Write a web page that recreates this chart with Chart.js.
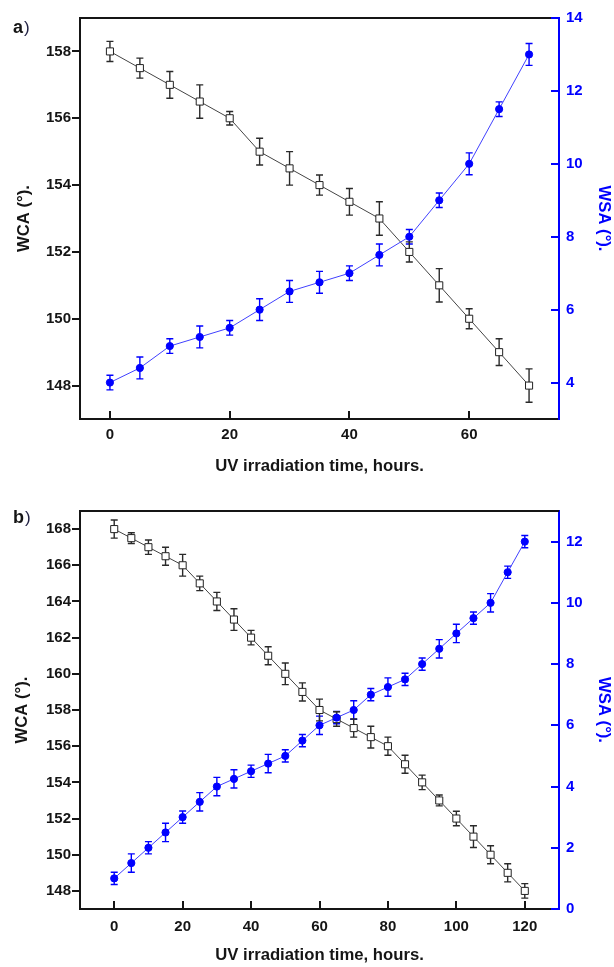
<!DOCTYPE html>
<html>
<head>
<meta charset="utf-8">
<script src="https://cdn.jsdelivr.net/npm/chart.js@4.4.1/dist/chart.umd.min.js"></script>
<style>
  html, body { margin: 0; padding: 0; background: #fff; }
  body { width: 614px; height: 967px; position: relative; overflow: hidden; }
  .panel { position: absolute; left: 0; width: 614px; }
  #wrapA { top: 0; height: 480px; }
  #wrapB { top: 480px; height: 487px; }
</style>
</head>
<body>
<div class="panel" id="wrapA"><canvas id="chartA" width="614" height="480"></canvas></div>
<div class="panel" id="wrapB"><canvas id="chartB" width="614" height="487"></canvas></div>
<script>
// ---- panel a) data ----
const hoursA = [0, 5, 10, 15, 20, 25, 30, 35, 40, 45, 50, 55, 60, 65, 70];
const wcaA = [158, 157.5, 157, 156.5, 156, 155, 154.5, 154, 153.5, 153, 152, 151, 150, 149, 148];
const wcaErrA = [0.3, 0.3, 0.4, 0.5, 0.2, 0.4, 0.5, 0.3, 0.4, 0.5, 0.3, 0.5, 0.3, 0.4, 0.5];
const wsaA = [4.0, 4.4, 5.0, 5.25, 5.5, 6.0, 6.5, 6.75, 7.0, 7.5, 8.0, 9.0, 10.0, 11.5, 13.0];
const wsaErrA = [0.2, 0.3, 0.2, 0.3, 0.2, 0.3, 0.3, 0.3, 0.2, 0.3, 0.2, 0.2, 0.3, 0.2, 0.3];
const xTicksA = [0, 20, 40, 60];
const wcaTicksA = [148, 150, 152, 154, 156, 158];
const wsaTicksA = [4, 6, 8, 10, 12, 14];

// ---- panel b) data ----
const hoursB = [0, 5, 10, 15, 20, 25, 30, 35, 40, 45, 50, 55, 60, 65, 70, 75, 80, 85, 90, 95, 100, 105, 110, 115, 120];
const wcaB = [168, 167.5, 167, 166.5, 166, 165, 164, 163, 162, 161, 160, 159, 158, 157.5, 157, 156.5, 156, 155, 154, 153, 152, 151, 150, 149, 148];
const wcaErrB = [0.5, 0.3, 0.4, 0.5, 0.6, 0.4, 0.5, 0.6, 0.4, 0.5, 0.6, 0.5, 0.6, 0.4, 0.5, 0.6, 0.5, 0.5, 0.4, 0.3, 0.4, 0.6, 0.5, 0.5, 0.4];
const wsaB = [1.0, 1.5, 2.0, 2.5, 3.0, 3.5, 4.0, 4.25, 4.5, 4.75, 5.0, 5.5, 6.0, 6.25, 6.5, 7.0, 7.25, 7.5, 8.0, 8.5, 9.0, 9.5, 10.0, 11.0, 12.0];
const wsaErrB = [0.2, 0.3, 0.2, 0.3, 0.2, 0.3, 0.3, 0.3, 0.2, 0.3, 0.2, 0.2, 0.3, 0.2, 0.3, 0.2, 0.3, 0.2, 0.2, 0.3, 0.3, 0.2, 0.3, 0.2, 0.2];
const xTicksB = [0, 20, 40, 60, 80, 100, 120];
const wcaTicksB = [148, 150, 152, 154, 156, 158, 160, 162, 164, 166, 168];
const wsaTicksB = [0, 2, 4, 6, 8, 10, 12];

const BLACK = '#151515';
const BLUE = '#0000ff';
const FONT = '"Liberation Sans", Arial, sans-serif';

// error bars, drawn under the markers
const errorBars = {
  id: 'errorBars',
  beforeDatasetsDraw(chart) {
    const ctx = chart.ctx;
    ctx.save();
    chart.data.datasets.forEach((ds, i) => {
      const meta = chart.getDatasetMeta(i);
      const ys = chart.scales[ds.yAxisID];
      ctx.strokeStyle = ds.errColor;
      ctx.lineWidth = 1.4;
      ds.data.forEach((p, j) => {
        const x = meta.data[j].x;
        const y1 = ys.getPixelForValue(p.y + ds.errors[j]);
        const y2 = ys.getPixelForValue(p.y - ds.errors[j]);
        ctx.beginPath();
        ctx.moveTo(x, y1); ctx.lineTo(x, y2);
        ctx.moveTo(x - 3.5, y1); ctx.lineTo(x + 3.5, y1);
        ctx.moveTo(x - 3.5, y2); ctx.lineTo(x + 3.5, y2);
        ctx.stroke();
      });
    });
    ctx.restore();
  }
};

// tick marks (x and right axis inward, left outward) + top frame line + panel tag
const frameTicks = {
  id: 'frameTicks',
  afterDraw(chart, args, opts) {
    const {ctx, chartArea: a, scales} = chart;
    ctx.save();
    ctx.lineWidth = 2;
    ctx.strokeStyle = BLACK;
    ctx.beginPath();
    scales.x.ticks.forEach(t => {
      const px = Math.round(scales.x.getPixelForValue(t.value));
      ctx.moveTo(px, a.bottom); ctx.lineTo(px, a.bottom - 8);
    });
    scales.y.ticks.forEach(t => {
      const py = Math.round(scales.y.getPixelForValue(t.value));
      ctx.moveTo(a.left - 8, py); ctx.lineTo(a.left, py);
    });
    ctx.moveTo(a.left - 1, a.top); ctx.lineTo(a.right, a.top);
    ctx.stroke();
    ctx.strokeStyle = BLUE;
    ctx.beginPath();
    scales.y2.ticks.forEach(t => {
      const py = Math.round(scales.y2.getPixelForValue(t.value));
      ctx.moveTo(a.right - 8, py); ctx.lineTo(a.right, py);
    });
    ctx.stroke();

    // panel tag such as "a)"
    ctx.textBaseline = 'alphabetic';
    ctx.textAlign = 'left';
    ctx.fillStyle = BLACK;
    ctx.font = 'bold 18px ' + FONT;
    ctx.fillText(opts.tag, 13, opts.tagY);
    const w = ctx.measureText(opts.tag).width;
    ctx.fillStyle = '#222244';
    ctx.font = '17px ' + FONT;
    ctx.fillText(')', 13 + w + 1, opts.tagY);
    ctx.restore();
  }
};

function makeChart(id, p) {
  const tickFont = { family: FONT, size: 15, weight: 'bold' };
  const titleFont = { family: FONT, size: 16.7, weight: 'bold' };
  return new Chart(document.getElementById(id), {
    type: 'line',
    data: {
      datasets: [
        {
          label: 'WSA',
          yAxisID: 'y2',
          data: p.hours.map((h, i) => ({ x: h, y: p.wsa[i] })),
          errors: p.wsaErr,
          errColor: BLUE,
          borderColor: '#4040ff',
          borderWidth: 1,
          pointStyle: 'circle',
          pointRadius: 3.6,
          pointBackgroundColor: BLUE,
          pointBorderColor: BLUE,
          pointBorderWidth: 1,
          tension: 0
        },
        {
          label: 'WCA',
          yAxisID: 'y',
          data: p.hours.map((h, i) => ({ x: h, y: p.wca[i] })),
          errors: p.wcaErr,
          errColor: '#2a2a2a',
          borderColor: '#444',
          borderWidth: 1,
          pointStyle: 'rect',
          pointRadius: 5,
          pointBackgroundColor: '#fff',
          pointBorderColor: '#222',
          pointBorderWidth: 1,
          tension: 0
        }
      ]
    },
    options: {
      responsive: false,
      animation: false,
      layout: { padding: { top: p.top, left: 0, right: 0, bottom: 0 } },
      plugins: {
        legend: { display: false },
        tooltip: { enabled: false },
        frameTicks: { tag: p.tag, tagY: p.tagY }
      },
      scales: {
        x: {
          type: 'linear',
          min: p.xMin, max: p.xMax,
          afterBuildTicks: s => { s.ticks = p.xTicks.map(v => ({ value: v })); },
          afterFit: s => { s.height = p.xAxisH; },
          grid: { display: false, drawTicks: false },
          border: { display: true, color: BLACK, width: 2 },
          ticks: { color: BLACK, font: tickFont, padding: p.xPad, maxRotation: 0 },
          title: { display: true, text: 'UV irradiation time, hours.', color: BLACK, font: titleFont, padding: { top: 0, bottom: p.xTitlePad } }
        },
        y: {
          type: 'linear', position: 'left',
          min: p.yMin, max: p.yMax,
          afterBuildTicks: s => { s.ticks = p.wcaTicks.map(v => ({ value: v })); },
          afterFit: s => { s.width = 80; },
          grid: { display: false, drawTicks: false },
          border: { display: true, color: BLACK, width: 2 },
          ticks: { color: BLACK, font: tickFont, padding: 9 },
          title: { display: true, text: 'WCA (°).', color: BLACK, font: titleFont, padding: { top: p.yTitlePad, bottom: 0 } }
        },
        y2: {
          type: 'linear', position: 'right',
          min: p.y2Min, max: p.y2Max,
          afterBuildTicks: s => { s.ticks = p.wsaTicks.map(v => ({ value: v })); },
          afterFit: s => { s.width = 55; },
          grid: { display: false, drawTicks: false },
          border: { display: true, color: BLUE, width: 2 },
          ticks: { color: BLUE, font: tickFont, padding: 7 },
          title: { display: true, text: 'WSA (°).', color: BLUE, font: titleFont, padding: { top: 0, bottom: 0 } }
        }
      }
    },
    plugins: [errorBars, frameTicks]
  });
}

makeChart('chartA', {
  hours: hoursA, wca: wcaA, wcaErr: wcaErrA, wsa: wsaA, wsaErr: wsaErrA,
  xTicks: xTicksA, wcaTicks: wcaTicksA, wsaTicks: wsaTicksA,
  xMin: -5, xMax: 75, yMin: 147, yMax: 159, y2Min: 3, y2Max: 14,
  top: 18, xAxisH: 61, xPad: 7, xTitlePad: 4, yTitlePad: 14,
  tag: 'a', tagY: 33
});

makeChart('chartB', {
  hours: hoursB, wca: wcaB, wcaErr: wcaErrB, wsa: wsaB, wsaErr: wsaErrB,
  xTicks: xTicksB, wcaTicks: wcaTicksB, wsaTicks: wsaTicksB,
  xMin: -10, xMax: 130, yMin: 147, yMax: 169, y2Min: 0, y2Max: 13,
  top: 31, xAxisH: 58, xPad: 9, xTitlePad: 2, yTitlePad: 12,
  tag: 'b', tagY: 43
});
</script>
</body>
</html>
